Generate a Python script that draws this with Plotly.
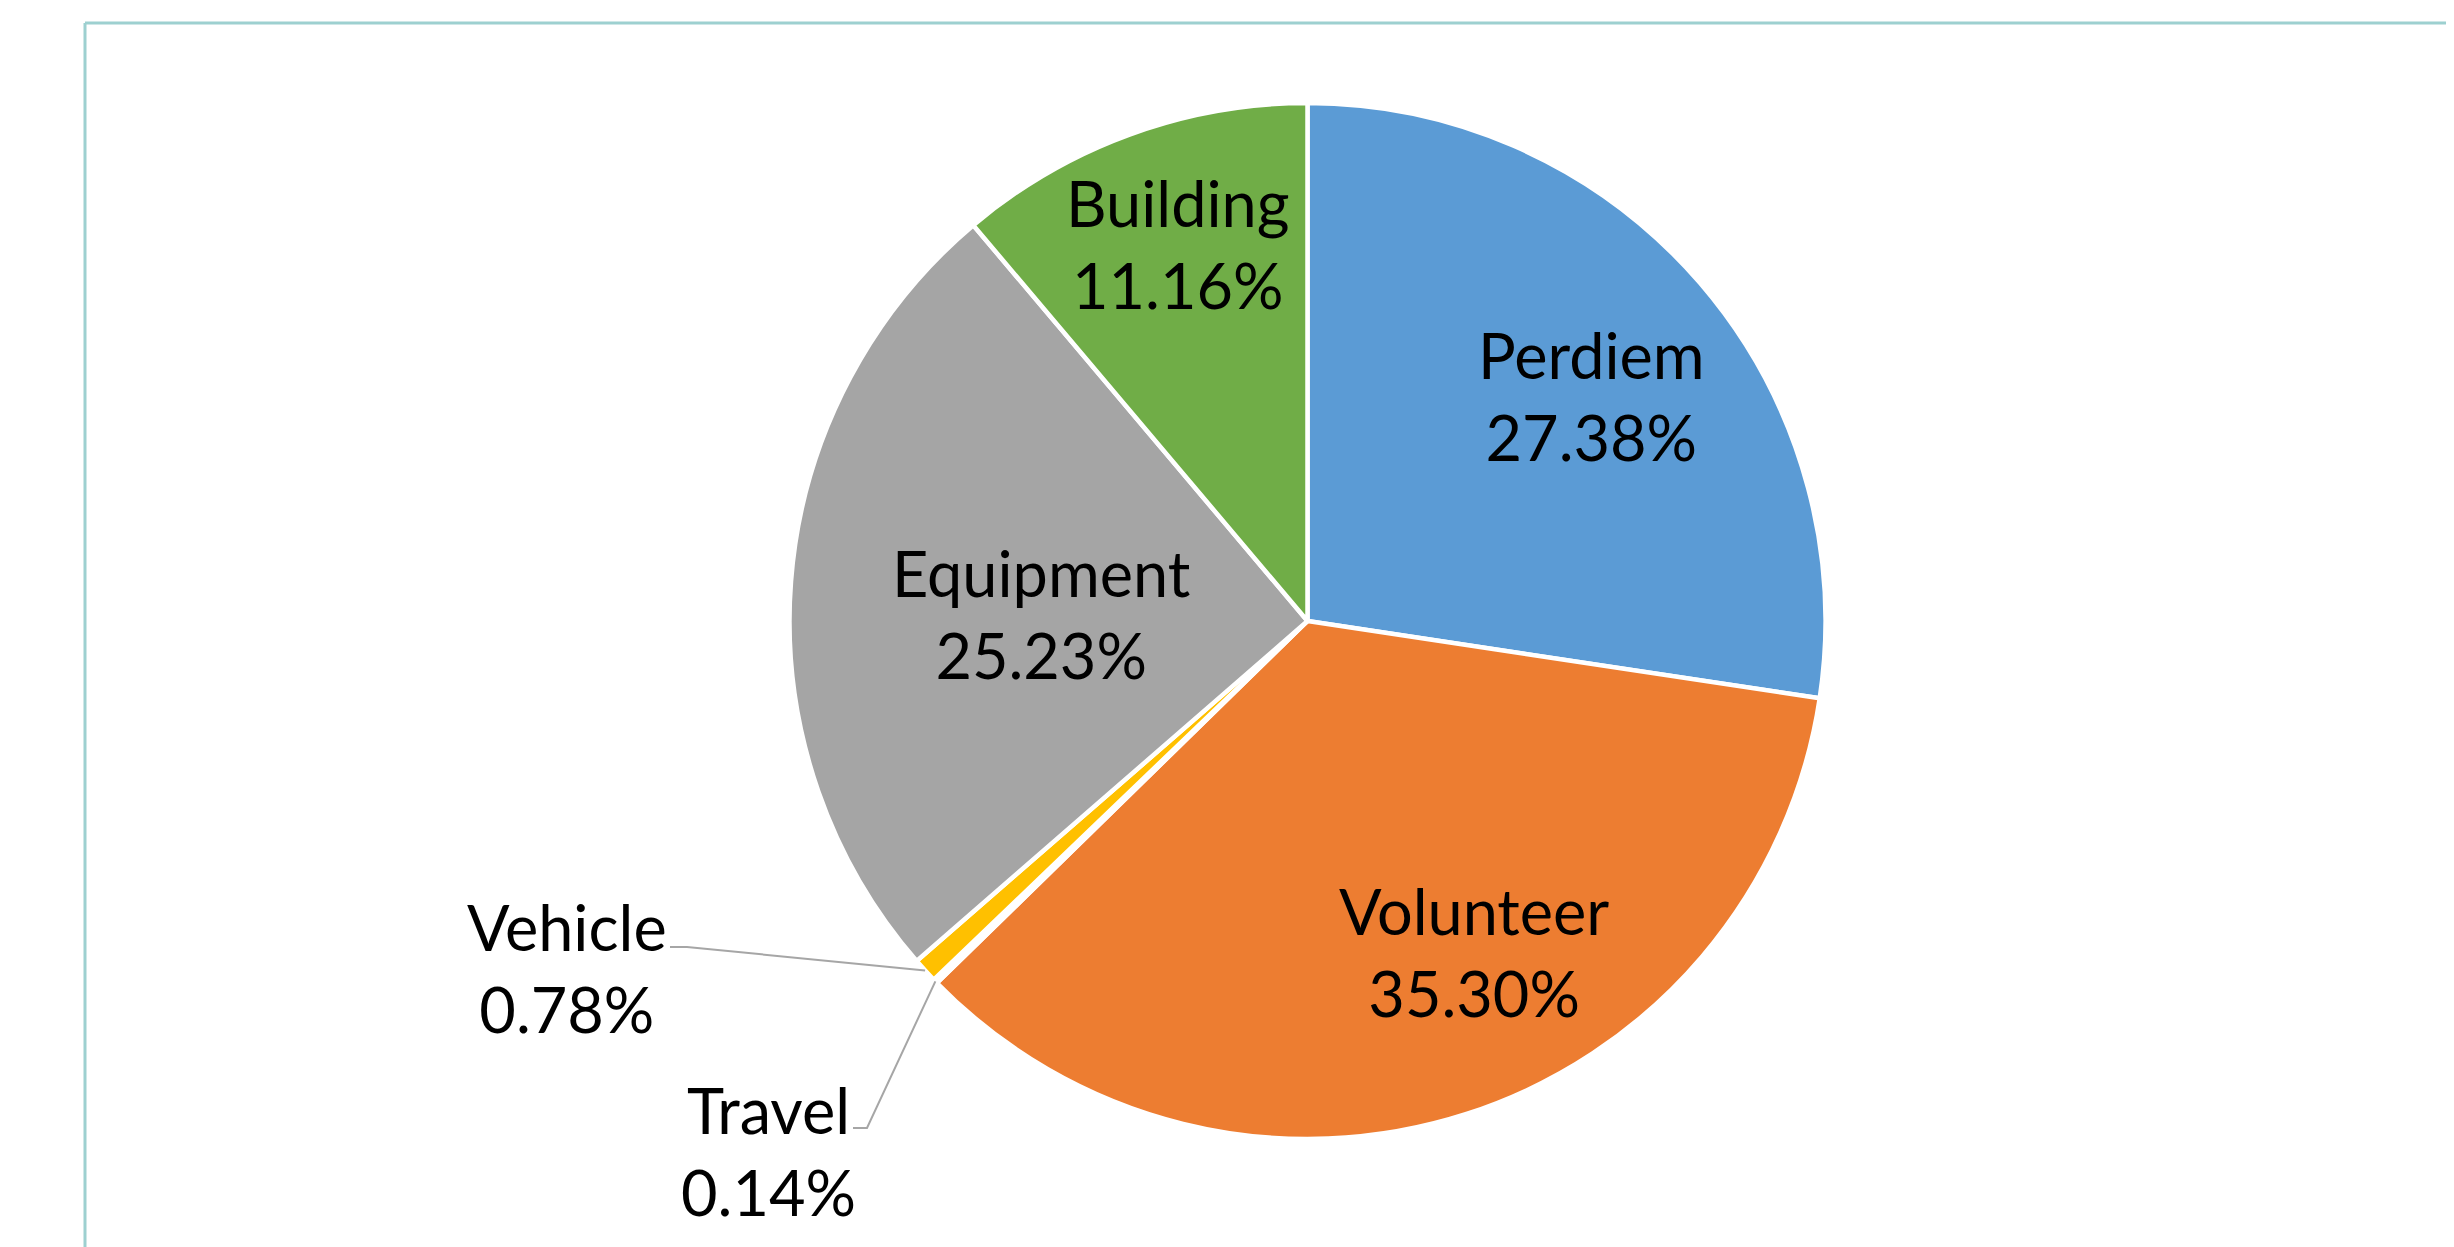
import math
import plotly.graph_objects as go

# budget share by category, clockwise from 12 o'clock
categories = ["Perdiem", "Volunteer", "Travel", "Vehicle", "Equipment", "Building"]
shares = [27.38, 35.30, 0.14, 0.78, 25.23, 11.16]
colors = ["#5B9BD5", "#ED7D31", "#4472C4", "#FFC000", "#A5A5A5", "#70AD47"]

W, H = 2454, 1247
OFF = 8  # page body margin pushes the plot down/right by this much
cx, cy, r = 1307.5 - OFF, 621 - OFF, 518

FONT = dict(family="Lato, sans-serif", size=63, color="black")


def to_paper(dx, dy):
    # pixel offset from pie centre -> paper coords
    return (cx + dx) / W, 1 - (cy + dy) / H


def on_circle(angle_deg, frac):
    a = math.radians(angle_deg)
    return frac * r * math.sin(a), -frac * r * math.cos(a)


# mid angle of each slice, degrees clockwise from 12 o'clock
total = sum(shares)
mid_angle = {}
acc = 0
for c, v in zip(categories, shares):
    mid_angle[c] = (acc + v / 2) / total * 360
    acc += v

fig = go.Figure(go.Pie(
    labels=categories,
    values=shares,
    sort=False,
    direction="clockwise",
    rotation=0,
    marker=dict(colors=colors, line=dict(color="white", width=4.5)),
    textinfo="none",
    hovertemplate="%{label}: %{value:.2f}%<extra></extra>",
    domain=dict(x=[(cx - r) / W, (cx + r) / W], y=[1 - (cy + r) / H, 1 - (cy - r) / H]),
    showlegend=False,
))

# inside labels: (angle nudge, radius fraction) like Excel's best-fit placement
inside_place = {
    "Perdiem": (2.2, 0.70),
    "Volunteer": (-8.9, 0.714),
    "Equipment": (-2.7, 0.514),
    "Building": (1.1, 0.77),
}
for c, v in zip(categories, shares):
    if c in inside_place:
        nudge, frac = inside_place[c]
        x, y = to_paper(*on_circle(mid_angle[c] + nudge, frac))
        fig.add_annotation(x=x, y=y, xref="paper", yref="paper",
                           text=f"{c}<br>{v:.2f}%", showarrow=False,
                           font=FONT, xanchor="center", yanchor="middle")

# outside labels with elbow leader lines (offsets from pie centre, px)
outside_place = {
    "Vehicle": dict(text=(-740.5, 346), elbow=[(-637.5, 326), (-620.5, 326)]),
    "Travel": dict(text=(-539.5, 529), elbow=[(-454.5, 507), (-440.5, 507)]),
}
for c, v in zip(categories, shares):
    if c in outside_place:
        p = outside_place[c]
        x, y = to_paper(*p["text"])
        fig.add_annotation(x=x, y=y, xref="paper", yref="paper",
                           text=f"{c}<br>{v:.2f}%", showarrow=False,
                           font=FONT, xanchor="center", yanchor="middle")
        pts = [to_paper(*q) for q in p["elbow"]] + [to_paper(*on_circle(mid_angle[c], 1.0))]
        path = "M " + " L ".join(f"{px:.5f},{py:.5f}" for px, py in pts)
        fig.add_shape(type="path", xref="paper", yref="paper", path=path,
                      line=dict(color="#A6A6A6", width=2))

# teal frame around the chart area (runs off the right and bottom edges)
frame = "#9DD0D0"
fig.add_shape(type="line", xref="paper", yref="paper",
              x0=(85 - OFF) / W, x1=1.01, y0=1 - (23 - OFF) / H, y1=1 - (23 - OFF) / H,
              line=dict(color=frame, width=3))
fig.add_shape(type="line", xref="paper", yref="paper",
              x0=(85 - OFF) / W, x1=(85 - OFF) / W, y0=1 - (23 - OFF) / H, y1=-0.02,
              line=dict(color=frame, width=3))

fig.update_layout(
    width=W, height=H,
    margin=dict(l=0, r=0, t=0, b=0),
    paper_bgcolor="white",
    plot_bgcolor="white",
)

fig.write_html("out.html")
